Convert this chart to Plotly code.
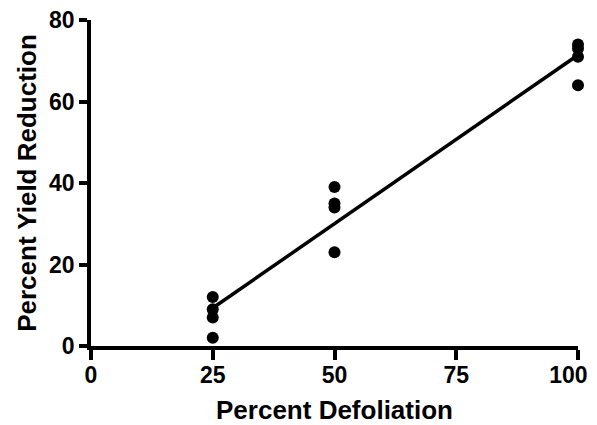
import numpy as np
import plotly.graph_objects as go

defoliation = [25, 25, 25, 25, 50, 50, 50, 50, 100, 100, 100, 100]
yield_reduction = [12, 9, 7, 2, 39, 35, 34, 23, 74, 73, 71, 64]
x_ticks = [0, 25, 50, 75, 100]
x_tick_labels = ["0", "25", "50", "75", "100"]
y_ticks = [0, 20, 40, 60, 80]

slope, intercept = np.polyfit(defoliation, yield_reduction, 1)
fit_x = [min(defoliation), max(defoliation)]
fit_y = [slope * v + intercept for v in fit_x]

# pad the last label on its right so it stays inside the window
x_tick_text = x_tick_labels[:-1] + [x_tick_labels[-1] + "\u00a0\u00a0\u00a0"]

fig = go.Figure()
fig.add_trace(go.Scatter(x=fit_x, y=fit_y, mode="lines",
                         line=dict(color="black", width=3.5), cliponaxis=False))
fig.add_trace(go.Scatter(x=defoliation, y=yield_reduction, mode="markers",
                         marker=dict(color="black", size=12), cliponaxis=False))

tickfont = dict(family="Liberation Sans, Arial", size=23, color="black", weight="bold")
titlefont = dict(family="Liberation Sans, Arial", size=26, color="black", weight="bold")

# page body has an 8px default margin, so the figure is offset by 8px
fig.update_layout(
    width=581, height=417,
    margin=dict(l=83, r=11, t=12, b=79),
    paper_bgcolor="white", plot_bgcolor="white",
    showlegend=False,
    xaxis=dict(range=[0, 100], tickvals=x_ticks, ticktext=x_tick_text,
               ticks="outside", ticklen=10,
               tickwidth=3.5, tickcolor="black", showline=True, linewidth=3.5,
               linecolor="black", showgrid=False, zeroline=False,
               tickfont=tickfont, automargin=False, ticklabeloverflow="allow",
               ticklabelstandoff=-4,
               title=dict(text="Percent Defoliation", font=titlefont, standoff=16)),
    yaxis=dict(range=[0, 80], tickvals=y_ticks, ticks="outside", ticklen=8,
               tickwidth=3.5, tickcolor="black", showline=True, linewidth=3.5,
               linecolor="black", showgrid=False, zeroline=False,
               tickfont=tickfont, automargin=False, ticklabeloverflow="allow",
               title=dict(text="Percent Yield Reduction", font=titlefont, standoff=6)),
)

fig.write_html("out.html")
